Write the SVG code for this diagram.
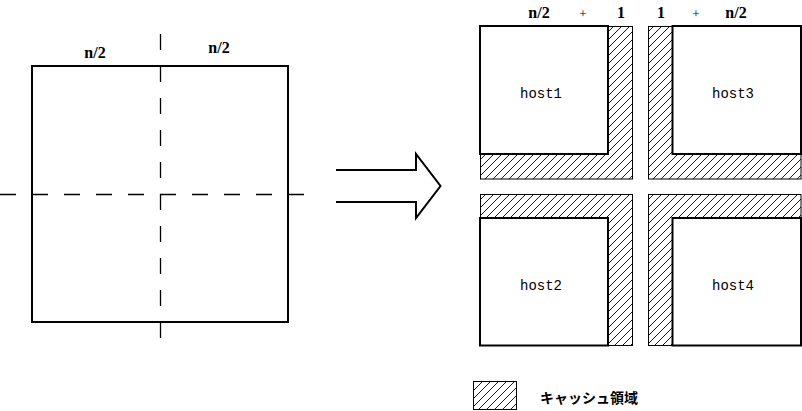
<svg xmlns="http://www.w3.org/2000/svg" width="802" height="411" viewBox="0 0 802 411">
<defs>
<pattern id="hatch" patternUnits="userSpaceOnUse" width="8" height="8">
<path d="M-1,1 L1,-1 M0,8 L8,0 M7,9 L9,7" stroke="#000" stroke-width="0.9"/>
</pattern>
</defs>
<style>
.thick{fill:#fff;stroke:#000;stroke-width:2}
.cache{fill:url(#hatch);stroke:#000;stroke-width:1}
.dash{stroke:#000;stroke-width:1.3;stroke-dasharray:16 16;fill:none}
.lbl{font-family:"Liberation Serif","Times New Roman",serif;font-weight:bold;font-size:16px;text-anchor:middle}
.plus{font-family:"Liberation Serif","Times New Roman",serif;font-size:13px;text-anchor:middle}
.host{font-family:"Liberation Mono","Courier New",monospace;font-size:14px;text-anchor:middle}
.jp{font-family:"Noto Sans CJK JP",sans-serif;font-weight:bold;font-size:14px}
</style>
<rect width="802" height="411" fill="#fff"/>
<g id="matrix">
<rect class="thick" x="32" y="66" width="256" height="256"/>
<line class="dash" x1="160.5" y1="34" x2="160.5" y2="338"/>
<line class="dash" x1="0" y1="194.5" x2="306" y2="194.5"/>
<text class="lbl" x="95" y="58">n/2</text>
<text class="lbl" x="219" y="53">n/2</text>
</g>
<g id="connectors">
<path d="M336,170 L416,170 L416,154 L440.5,186 L416,218 L416,202 L336,202" fill="none" stroke="#000" stroke-width="2"/>
</g>
<g id="host1">
<rect class="cache" x="480.5" y="26.5" width="152" height="152.5"/>
<rect class="thick" x="480" y="26" width="128" height="128"/>
<text class="host" x="541" y="98">host1</text>
</g>
<g id="host3">
<rect class="cache" x="648.5" y="26.5" width="152.5" height="152.5"/>
<rect class="thick" x="672.5" y="26" width="128.5" height="128"/>
<text class="host" x="733" y="98">host3</text>
</g>
<g id="host2">
<rect class="cache" x="480.5" y="194.5" width="152" height="151"/>
<rect class="thick" x="480" y="218" width="128" height="127.5"/>
<text class="host" x="541" y="290">host2</text>
</g>
<g id="host4">
<rect class="cache" x="648.5" y="194.5" width="152.5" height="151"/>
<rect class="thick" x="672.5" y="218" width="128.5" height="127.5"/>
<text class="host" x="733" y="290">host4</text>
</g>
<g id="top-labels">
<text class="lbl" x="539" y="18">n/2</text>
<text class="plus" x="583" y="18">+</text>
<text class="lbl" x="621" y="18">1</text>
<text class="lbl" x="661" y="18">1</text>
<text class="plus" x="696" y="18">+</text>
<text class="lbl" x="736" y="18">n/2</text>
</g>
<g id="legend">
<rect class="cache" x="473.5" y="381.5" width="43" height="28"/>
<text class="jp" x="540" y="403">キャッシュ領域</text>
</g>
</svg>
